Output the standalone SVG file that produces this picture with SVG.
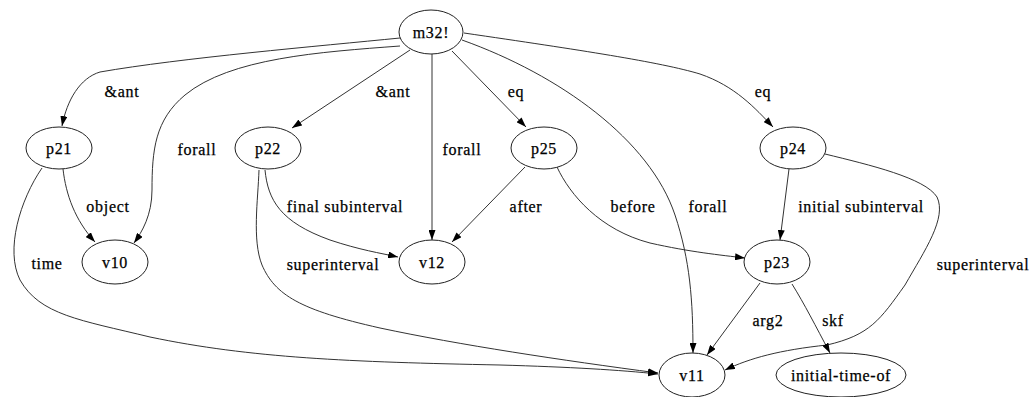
<svg xmlns="http://www.w3.org/2000/svg" width="1034" height="397" viewBox="0 0 1034 397">
  <style>
    .node ellipse { fill: none; stroke: #222; stroke-width: 1; }
    text { font-family: "Liberation Serif", "Times New Roman", serif; font-size: 16px; letter-spacing: 0.7px; fill: #000; stroke: #000; stroke-width: 0.25; text-anchor: middle; }
    .edge { fill: none; stroke: #333; stroke-width: 1; marker-end: url(#arrow); }
  </style>
  <defs>
    <marker id="arrow" viewBox="0 0 10 7" refX="10" refY="3.5" markerWidth="10" markerHeight="7" markerUnits="userSpaceOnUse" orient="auto">
      <path d="M0,0 L10,3.5 L0,7 Z" fill="#000"/>
    </marker>
  </defs>
  <rect width="1034" height="397" fill="#fff"/>

  <g id="connectors">
    <!-- m32! -> p21 (&ant) -->
    <path class="edge" d="M400,38 C320,46 180,58 100,72 C80,78 67,100 62,126"/>
    <!-- m32! -> v10 (forall) -->
    <path class="edge" d="M400,46 C320,52 230,58 185,95 C155,120 152,150 152,190 C152,215 142,232 134,243"/>
    <!-- m32! -> p22 (&ant) -->
    <path class="edge" d="M410,50 L292,128"/>
    <!-- m32! -> v12 (forall) -->
    <path class="edge" d="M432,54 L432,240"/>
    <!-- m32! -> p25 (eq) -->
    <path class="edge" d="M452,51 L526,127"/>
    <!-- m32! -> v11 (forall) -->
    <path class="edge" d="M462,40 C560,75 650,140 675,215 C690,260 693,300 693,353"/>
    <!-- m32! -> p24 (eq) -->
    <path class="edge" d="M464,33 C580,50 660,62 700,74 C735,86 755,108 773,127"/>
    <!-- p21 -> v10 (object) -->
    <path class="edge" d="M63,169 C66,195 75,220 95,242"/>
    <!-- p21 -> v11 (time) -->
    <path class="edge" d="M42,168 C20,200 5,250 20,280 C40,315 80,320 150,337 C250,358 350,362 500,365 C570,367 620,370 658,374"/>
    <!-- p22 -> v12 (final subinterval) -->
    <path class="edge" d="M265,170 C268,200 280,222 330,240 C360,250 380,253 398,257"/>
    <!-- p22 -> v11 (superinterval) -->
    <path class="edge" d="M259,170 C258,200 252,240 262,265 C275,295 300,310 380,328 C460,345 560,360 658,373"/>
    <!-- p25 -> v12 (after) -->
    <path class="edge" d="M525,167 L452,242"/>
    <!-- p25 -> p23 (before) -->
    <path class="edge" d="M557,167 C570,195 600,230 650,243 C690,252 720,255 745,258"/>
    <!-- p24 -> p23 (initial subinterval) -->
    <path class="edge" d="M789,169 L780,240"/>
    <!-- p24 -> v11 (superinterval) -->
    <path class="edge" d="M825,154 C870,165 925,178 937,197 C947,218 925,250 905,285 C880,320 870,335 827,345 C780,350 750,358 725,370"/>
    <!-- p23 -> v11 (arg2) -->
    <path class="edge" d="M760,283 L707,355"/>
    <!-- p23 -> initial-time-of (skf) -->
    <path class="edge" d="M792,284 C805,305 815,325 830,353"/>
  </g>

  <g id="edge-labels">
    <text x="122" y="96.5">&amp;ant</text>
    <text x="197" y="154.5">forall</text>
    <text x="393" y="96.5">&amp;ant</text>
    <text x="462" y="154.5">forall</text>
    <text x="516" y="96.5">eq</text>
    <text x="708" y="211.5">forall</text>
    <text x="763" y="96.5">eq</text>
    <text x="108" y="211.5">object</text>
    <text x="47" y="268.5">time</text>
    <text x="345" y="211.5">final subinterval</text>
    <text x="333" y="269.5">superinterval</text>
    <text x="526" y="211.5">after</text>
    <text x="633" y="211.5">before</text>
    <text x="861" y="211.5">initial subinterval</text>
    <text x="983" y="269.5">superinterval</text>
    <text x="768" y="325.5">arg2</text>
    <text x="833" y="325.5">skf</text>
  </g>

  <g id="nodes">
    <g id="m32" class="node"><ellipse cx="431" cy="32" rx="32" ry="22"/><text x="431" y="37.5">m32!</text></g>
    <g id="p21" class="node"><ellipse cx="59" cy="148" rx="33" ry="21"/><text x="59" y="153.5">p21</text></g>
    <g id="p22" class="node"><ellipse cx="268" cy="148" rx="33" ry="21"/><text x="268" y="153.5">p22</text></g>
    <g id="p25" class="node"><ellipse cx="544" cy="148" rx="33" ry="21"/><text x="544" y="153.5">p25</text></g>
    <g id="p24" class="node"><ellipse cx="793" cy="148" rx="33" ry="21"/><text x="793" y="153.5">p24</text></g>
    <g id="v10" class="node"><ellipse cx="115" cy="262" rx="33" ry="22"/><text x="115" y="267.5">v10</text></g>
    <g id="v12" class="node"><ellipse cx="432" cy="262" rx="33" ry="22"/><text x="432" y="267.5">v12</text></g>
    <g id="p23" class="node"><ellipse cx="777" cy="262" rx="33" ry="22"/><text x="777" y="267.5">p23</text></g>
    <g id="v11" class="node"><ellipse cx="692" cy="375" rx="33" ry="22"/><text x="692" y="380.5">v11</text></g>
    <g id="initial-time-of" class="node"><ellipse cx="841" cy="375" rx="65" ry="22"/><text x="841" y="380.5">initial-time-of</text></g>
  </g>
</svg>
